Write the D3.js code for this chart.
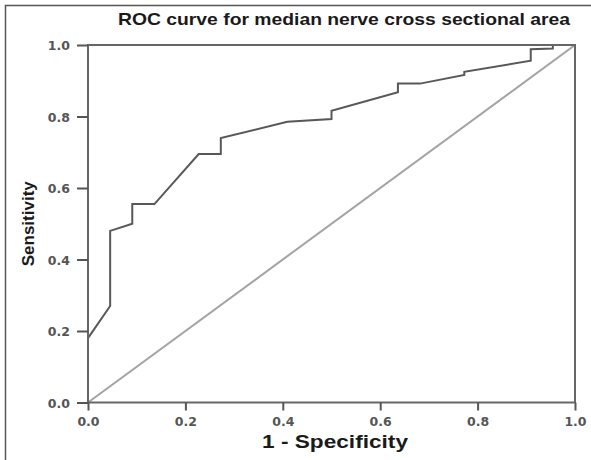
<!DOCTYPE html>
<html><head><meta charset="utf-8">
<script src="https://cdn.jsdelivr.net/npm/d3@7/dist/d3.min.js"></script>
<style>body{margin:0;background:#fff}svg{display:block}</style>
</head><body>
<svg id="chart" width="591" height="460"></svg>
<script>
// ROC curve points (1 - Specificity, Sensitivity)
const fpr = [0, 0, 0.0455, 0.0455, 0.0909, 0.0909, 0.1364, 0.2273, 0.2727, 0.2727, 0.4091, 0.5, 0.5, 0.6364, 0.6364, 0.6818, 0.7727, 0.7727, 0.9091, 0.9091, 0.9545, 0.9545, 1];
const tpr = [0, 0.18, 0.27, 0.48, 0.50, 0.555, 0.555, 0.695, 0.695, 0.74, 0.785, 0.793, 0.816, 0.868, 0.892, 0.892, 0.916, 0.925, 0.956, 0.988, 0.99, 1.0, 1.0];
// reference diagonal
const refX = [0, 1];
const refY = [0, 1];
// ticks
const tickValues = [0, 0.2, 0.4, 0.6, 0.8, 1.0];
const tickLabels = ["0.0", "0.2", "0.4", "0.6", "0.8", "1.0"];
const titleText = "ROC curve for median nerve cross sectional area";
const xTitleText = "1 - Specificity";
const yTitleText = "Sensitivity";

const svg = d3.select("#chart");
const pLeft = 88, pRight = 575, pTop = 45, pBottom = 402.5;
const x = d3.scaleLinear().domain([0, 1]).range([pLeft, pRight]);
const y = d3.scaleLinear().domain([0, 1]).range([pBottom, pTop]);

// outer frame (image border)
svg.append("rect").attr("x", 5.5).attr("y", 5.5).attr("width", 600).attr("height", 470)
  .attr("fill", "none").attr("stroke", "#555").attr("stroke-width", 1.5);

// title
svg.append("text").attr("x", 344).attr("y", 25).attr("text-anchor", "middle")
  .attr("font-family", "Liberation Sans, Arial, sans-serif").attr("font-weight", "bold")
  .attr("font-size", 17).attr("fill", "#1a1a1a")
  .attr("textLength", 452).attr("lengthAdjust", "spacingAndGlyphs")
  .text(titleText);

// diagonal
const line = d3.line().x((d) => x(d[0])).y((d) => y(d[1]));
svg.append("path").datum(refX.map((v, i) => [v, refY[i]]))
  .attr("d", line).attr("fill", "none").attr("stroke", "#a3a3a3").attr("stroke-width", 2);

// ROC curve
svg.append("path").datum(fpr.map((v, i) => [v, tpr[i]]))
  .attr("d", line).attr("fill", "none").attr("stroke", "#585858").attr("stroke-width", 2)
  .attr("stroke-linejoin", "miter");

// plot frame
svg.append("rect").attr("x", pLeft).attr("y", pTop).attr("width", pRight - pLeft).attr("height", pBottom - pTop)
  .attr("fill", "none").attr("stroke", "#666").attr("stroke-width", 2);

// axes
const xAxis = d3.axisBottom(x).tickValues(tickValues).tickFormat((d, i) => tickLabels[i]).tickSize(8).tickSizeOuter(0);
const gx = svg.append("g").attr("transform", `translate(0,${pBottom})`).call(xAxis);
gx.select(".domain").remove();
gx.selectAll(".tick line").attr("stroke", "#555").attr("stroke-width", 2);
gx.selectAll(".tick text").attr("y", 23).attr("dy", null)
  .attr("font-family", "DejaVu Sans, sans-serif").attr("font-weight", "bold").attr("font-size", 12.5).attr("fill", "#555");

const yAxis = d3.axisLeft(y).tickValues(tickValues).tickFormat((d, i) => tickLabels[i]).tickSize(11).tickSizeOuter(0);
const gy = svg.append("g").attr("transform", `translate(${pLeft},0)`).call(yAxis);
gy.select(".domain").remove();
gy.selectAll(".tick line").attr("stroke", "#555").attr("stroke-width", 2);
gy.selectAll(".tick text").attr("x", -18).attr("dy", "0.36em")
  .attr("font-family", "DejaVu Sans, sans-serif").attr("font-weight", "bold").attr("font-size", 12.5).attr("fill", "#555");

// axis titles
svg.append("text").attr("x", 335).attr("y", 448).attr("text-anchor", "middle")
  .attr("font-family", "Liberation Sans, Arial, sans-serif").attr("font-weight", "bold")
  .attr("font-size", 18).attr("fill", "#1a1a1a")
  .attr("textLength", 146).attr("lengthAdjust", "spacingAndGlyphs")
  .text(xTitleText);

svg.append("text").attr("transform", `translate(34,${(pTop + pBottom) / 2}) rotate(-90)`)
  .attr("text-anchor", "middle")
  .attr("font-family", "Liberation Sans, Arial, sans-serif").attr("font-weight", "bold")
  .attr("font-size", 17).attr("fill", "#1a1a1a")
  .text(yTitleText);
</script>
</body></html>
